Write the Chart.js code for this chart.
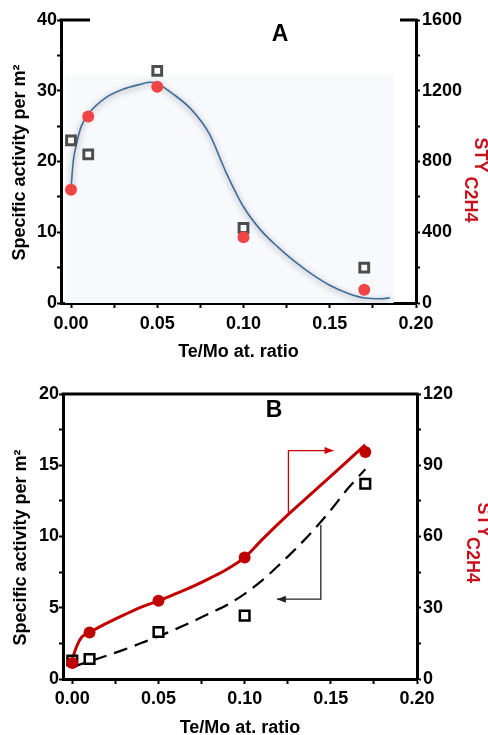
<!DOCTYPE html>
<html>
<head>
<meta charset="utf-8">
<script src="https://cdn.jsdelivr.net/npm/chart.js@4.4.1/dist/chart.umd.min.js"></script>
<style>
  body { margin: 0; background: #fff; width: 488px; height: 735px; overflow: hidden; }
  canvas { display: block; }
</style>
</head>
<body>
<canvas id="chartA" width="488" height="370"></canvas>
<canvas id="chartB" width="488" height="365"></canvas>
<script>
// Te/Mo atomic ratio of the samples
const ratios = [0, 0.01, 0.05, 0.10, 0.17];

// panel A: specific activity (left) and STY C2H4 (right)
const activityA = [23.0, 21.0, 32.8, 10.6, 5.0];
const styA = [640, 1055, 1222, 372, 75];
// fitted curve, left axis units
const fitAx = [0, 0.0013, 0.0033, 0.006, 0.01, 0.02, 0.03, 0.04, 0.046, 0.05, 0.06, 0.07, 0.08, 0.09, 0.10, 0.11, 0.12, 0.13, 0.14, 0.15, 0.16, 0.17, 0.18, 0.185];
const fitAy = [16.2, 20.0, 22.6, 25.0, 26.7, 29.0, 30.2, 30.9, 31.2, 31.0, 29.4, 27.3, 24.0, 18.4, 13.6, 10.3, 7.9, 5.8, 4.0, 2.5, 1.4, 0.7, 0.6, 0.75];

// panel B
const activityB = [1.3, 1.4, 3.3, 4.45, 13.7];
const styB = [6.7, 19.6, 32.9, 51.2, 95.6];
// red fitted line (right axis units)
const styFitBx = [0, 0.0006, 0.0025, 0.0055, 0.01, 0.02, 0.03, 0.04, 0.05, 0.06, 0.07, 0.08, 0.09, 0.10, 0.11, 0.125, 0.14, 0.155, 0.17];
const styFitBy = [7.0, 9.5, 13.7, 17.7, 19.6, 23.5, 27.0, 30.3, 32.9, 35.9, 39.0, 42.5, 46.3, 51.2, 58.6, 69.1, 78.9, 88.7, 98.6];
// dashed fitted line (left axis units)
const actFitBx = [0, 0.01, 0.02, 0.03, 0.04, 0.05, 0.06, 0.07, 0.08, 0.09, 0.10, 0.11, 0.12, 0.13, 0.14, 0.15, 0.16, 0.17];
const actFitBy = [0.84, 1.24, 1.64, 2.06, 2.52, 2.99, 3.5, 4.04, 4.63, 5.21, 5.98, 6.91, 8.01, 9.18, 10.46, 11.86, 13.38, 14.72];

// axis pointer arrows in panel B (left axis units)
const arrowRightX = [0.1254, 0.1254, 0.1516];
const arrowRightY = [11.6, 16.03, 16.03];
const arrowLeftX = [0.1442, 0.1442, 0.1187];
const arrowLeftY = [10.8, 5.6, 5.6];

// ticks (every other one is labelled)
const xTicks = [0, 0.025, 0.05, 0.075, 0.10, 0.125, 0.15, 0.175, 0.20];
const leftTicksA = [0, 5, 10, 15, 20, 25, 30, 35, 40];
const rightTicksA = [0, 200, 400, 600, 800, 1000, 1200, 1400, 1600];
const leftTicksB = [0, 2.5, 5, 7.5, 10, 12.5, 15, 17.5, 20];
const rightTicksB = [0, 15, 30, 45, 60, 75, 90, 105, 120];

const FONT = '"Liberation Sans", Arial, sans-serif';
const RED = '#c8101c';

const pts = (xs, ys) => xs.map((x, i) => ({ x, y: ys[i] }));

function axis(position, ticks, fmt, min, max, size, tickLen, pad) {
  return {
    type: 'linear', position, min, max,
    afterBuildTicks: s => { s.ticks = ticks.map(v => ({ value: v })); },
    afterFit: s => { if (s.isHorizontal()) s.height = size; else s.width = size; },
    grid: { drawOnChartArea: false, drawTicks: true, tickLength: tickLen, tickWidth: 2, color: '#000', tickColor: '#000' },
    border: { display: true, width: 3, color: '#000' },
    ticks: {
      padding: pad, color: '#000', autoSkip: false, maxRotation: 0,
      font: { family: FONT, size: 18, weight: 'bold' },
      callback: (v, i) => i % 2 === 0 ? fmt(v) : ''
    }
  };
}

function textPlugin(items) {
  return {
    id: 'texts',
    afterDraw(chart) {
      const ctx = chart.ctx;
      items.forEach(t => {
        ctx.save();
        ctx.translate(t.x, t.y);
        ctx.rotate(t.rot || 0);
        ctx.font = t.font;
        ctx.fillStyle = t.color || '#000';
        ctx.textAlign = 'center';
        ctx.textBaseline = 'middle';
        ctx.fillText(t.text, 0, 0);
        ctx.restore();
      });
    }
  };
}

function topBorder(leftLen, rightLen) {
  return {
    id: 'topBorder',
    afterDraw(chart) {
      const { ctx, chartArea: a } = chart;
      ctx.save();
      ctx.strokeStyle = '#000';
      ctx.lineWidth = 3;
      ctx.beginPath();
      if (leftLen == null) {
        ctx.moveTo(a.left - 1.5, a.top); ctx.lineTo(a.right + 1.5, a.top);
      } else {
        ctx.moveTo(a.left - 1.5, a.top); ctx.lineTo(a.left + leftLen, a.top);
        ctx.moveTo(a.right - rightLen, a.top); ctx.lineTo(a.right + 1.5, a.top);
      }
      ctx.stroke();
      ctx.restore();
    }
  };
}

// soft gray shadow under the fitted curve of panel A
const shadowPlugin = {
  id: 'shadow',
  beforeDatasetDraw(chart, args) {
    if (!chart.data.datasets[args.index].shadow) return;
    const ctx = chart.ctx;
    ctx.save();
    ctx.shadowColor = 'rgba(0,0,0,0.45)';
    ctx.shadowBlur = 6;
    ctx.shadowOffsetY = 1.5;
  },
  afterDatasetDraw(chart, args) {
    if (chart.data.datasets[args.index].shadow) chart.ctx.restore();
  }
};

// pale panel behind the data of panel A
const bgPlugin = {
  id: 'bgRect',
  beforeDatasetsDraw(chart) {
    const { ctx, scales: { x, y } } = chart;
    const x0 = x.getPixelForValue(-0.0035), x1 = x.getPixelForValue(0.187);
    const y0 = y.getPixelForValue(32.2), y1 = y.getPixelForValue(0);
    ctx.save();
    ctx.fillStyle = '#f7f9fd';
    ctx.fillRect(x0, y0, x1 - x0, y1 - y0);
    ctx.restore();
  }
};

function arrowPlugin(arrows) {
  return {
    id: 'arrows',
    afterDatasetsDraw(chart) {
      const { ctx, scales: { x, y } } = chart;
      arrows.forEach(a => {
        const px = a.xs.map(v => x.getPixelForValue(v));
        const py = a.ys.map(v => y.getPixelForValue(v));
        ctx.save();
        ctx.strokeStyle = a.color;
        ctx.fillStyle = a.color;
        ctx.lineWidth = 1.3;
        ctx.beginPath();
        px.forEach((p, i) => i ? ctx.lineTo(p, py[i]) : ctx.moveTo(p, py[i]));
        ctx.stroke();
        const n = px.length - 1;
        const dir = Math.sign(px[n] - px[n - 1]);
        ctx.beginPath();
        ctx.moveTo(px[n], py[n]);
        ctx.lineTo(px[n] - dir * 9, py[n] - 3.5);
        ctx.lineTo(px[n] - dir * 9, py[n] + 3.5);
        ctx.closePath();
        ctx.fill();
        ctx.restore();
      });
    }
  };
}

const fmtX = v => v.toFixed(2);
const fmtY = v => String(v);
const titleFont = 'bold 18px ' + FONT;
const letterFont = 'bold 23px ' + FONT;

function xAxis(min, height, tl, pad, pb) {
  const a = axis('bottom', xTicks, fmtX, min, 0.2, height, tl, pad);
  a.title = { display: true, text: 'Te/Mo at. ratio', color: '#000',
    font: { family: FONT, size: 18, weight: 'bold' }, padding: { top: 0, bottom: pb } };
  return a;
}

// ---- Panel A ----
new Chart(document.getElementById('chartA'), {
  type: 'scatter',
  data: {
    datasets: [
      { label: 'STY', data: pts(ratios, styA), yAxisID: 'y1', pointStyle: 'circle', pointRadius: 6,
        backgroundColor: '#f04545', borderWidth: 0 },
      { label: 'activity', data: pts(ratios, activityA), yAxisID: 'y', pointStyle: 'rect', pointRadius: 6.2,
        backgroundColor: '#fff', borderColor: '#4d4d4d', borderWidth: 3 },
      { label: 'fit', data: pts(fitAx, fitAy), yAxisID: 'y', showLine: true, pointRadius: 0, shadow: true,
        borderColor: '#3f6e9c', borderWidth: 1.6, cubicInterpolationMode: 'monotone' }
    ]
  },
  options: {
    responsive: false, animation: false,
    layout: { padding: { top: 20 } },
    plugins: { legend: { display: false }, tooltip: { enabled: false } },
    scales: {
      x: xAxis(-0.0058, 67, 5, 5, 7.5),
      y: axis('left', leftTicksA, fmtY, 0, 40, 61, 4, 0),
      y1: axis('right', rightTicksA, fmtY, 0, 1600, 72, 4, 2)
    }
  },
  plugins: [bgPlugin, shadowPlugin, topBorder(29, 16), textPlugin([
    { text: 'A', x: 280, y: 35, font: letterFont },
    { text: 'Specific activity per m²', x: 20, y: 162.5, rot: -Math.PI / 2, font: titleFont },
    { text: 'STY', x: 480, y: 155, rot: Math.PI / 2, font: titleFont, color: RED },
    { text: 'C2H4', x: 470, y: 199.5, rot: Math.PI / 2, font: titleFont, color: RED }
  ])]
});

// ---- Panel B ----
new Chart(document.getElementById('chartB'), {
  type: 'scatter',
  data: {
    datasets: [
      { label: 'STY', data: pts(ratios, styB), yAxisID: 'y1', pointStyle: 'circle', pointRadius: 6,
        backgroundColor: '#c00000', borderWidth: 0 },
      { label: 'activity', data: pts(ratios, activityB), yAxisID: 'y', pointStyle: 'rect', pointRadius: 6.8,
        backgroundColor: '#fff', borderColor: '#000', borderWidth: 2.5 },
      { label: 'STY fit', data: pts(styFitBx, styFitBy), yAxisID: 'y1', showLine: true, pointRadius: 0,
        borderColor: '#c00000', borderWidth: 3, cubicInterpolationMode: 'monotone' },
      { label: 'activity fit', data: pts(actFitBx, actFitBy), yAxisID: 'y', showLine: true, pointRadius: 0,
        borderColor: '#000', borderWidth: 2.2, borderDash: [14, 8], cubicInterpolationMode: 'monotone' }
    ]
  },
  options: {
    responsive: false, animation: false,
    layout: { padding: { top: 24 } },
    plugins: { legend: { display: false }, tooltip: { enabled: false } },
    scales: {
      x: xAxis(-0.0054, 56, 5, 4, -4),
      y: axis('left', leftTicksB, fmtY, 0, 20, 63, 4, 0),
      y1: axis('right', rightTicksB, fmtY, 0, 120, 71, 4, 2)
    }
  },
  plugins: [topBorder(null), arrowPlugin([
    { xs: arrowRightX, ys: arrowRightY, color: '#cc0000' },
    { xs: arrowLeftX, ys: arrowLeftY, color: '#222' }
  ]), textPlugin([
    { text: 'B', x: 274, y: 40.5, font: letterFont },
    { text: 'Specific activity per m²', x: 21.5, y: 177.5, rot: -Math.PI / 2, font: titleFont },
    { text: 'STY', x: 483, y: 150, rot: Math.PI / 2, font: titleFont, color: RED },
    { text: 'C2H4', x: 472, y: 190, rot: Math.PI / 2, font: titleFont, color: RED }
  ])]
});
</script>
</body>
</html>
